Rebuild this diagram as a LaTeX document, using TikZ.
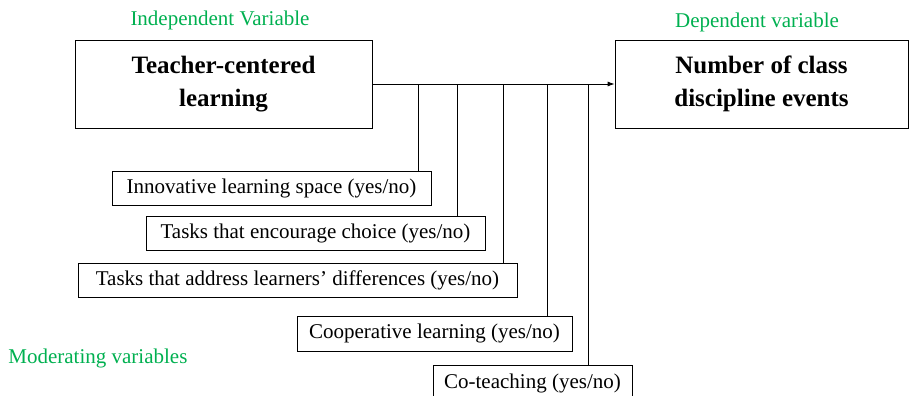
\documentclass[tikz,border=0pt]{standalone}
\usepackage{fontspec}
\setmainfont{Liberation Serif}
\usetikzlibrary{arrows.meta}
\definecolor{vargreen}{RGB}{0,176,80}

\begin{document}
\begin{tikzpicture}[x=1pt, y=-1pt, >={Latex[length=7pt,width=5pt]}, line width=0.8pt]
    \tikzset{
        mainbox/.style={draw, inner sep=0pt, minimum height=88pt, align=center,
            font=\bfseries\fontsize{25}{33}\selectfont},
        modbox/.style={draw, inner sep=0pt, minimum height=34pt,
            font=\fontsize{21}{25}\selectfont},
        varlabel/.style={text=vargreen, inner sep=0pt, font=\fontsize{21}{25}\selectfont}
    }
    \useasboundingbox (0,0) rectangle (910,396);
    % variables
    \node[mainbox, minimum width=297pt] (indep) at (223.5,84) {Teacher-centered\\learning};
    \node[mainbox, minimum width=293pt] (dep) at (761.5,84) {Number of class\\discipline events};
    \node[varlabel] (indeplabel) at (220,20) {Independent Variable};
    \node[varlabel] (deplabel) at (757,22) {Dependent variable};
    \node[varlabel, anchor=west] (modlabel) at (8,358) {Moderating variables};
    % moderators
    \node[modbox, minimum width=319pt] (space) at (271.5,188) {Innovative learning space (yes/no)};
    \node[modbox, minimum width=339pt] (choice) at (315.5,233) {Tasks that encourage choice (yes/no)};
    \node[modbox, minimum width=439pt] (differ) at (297.5,280) {Tasks that address learners' differences (yes/no)};
    \node[modbox, minimum width=275pt, minimum height=35pt] (coop) at (434.5,333.5) {Cooperative learning (yes/no)};
    \node[modbox, minimum width=199pt, minimum height=36pt] (coteach) at (532.5,383) {Co-teaching (yes/no)};
    % main path and taps
    \draw[->] (indep.east) -- (dep.west);
    \coordinate (tapa) at (418,84);
    \coordinate (tapb) at (457,84);
    \coordinate (tapc) at (503,84);
    \coordinate (tapd) at (547,84);
    \coordinate (tape) at (588,84);
    \draw (tapa) -- (tapa |- space.north);
    \draw (tapb) -- (tapb |- choice.north);
    \draw (tapc) -- (tapc |- differ.north);
    \draw (tapd) -- (tapd |- coop.north);
    \draw (tape) -- (tape |- coteach.north);
\end{tikzpicture}
\end{document}
